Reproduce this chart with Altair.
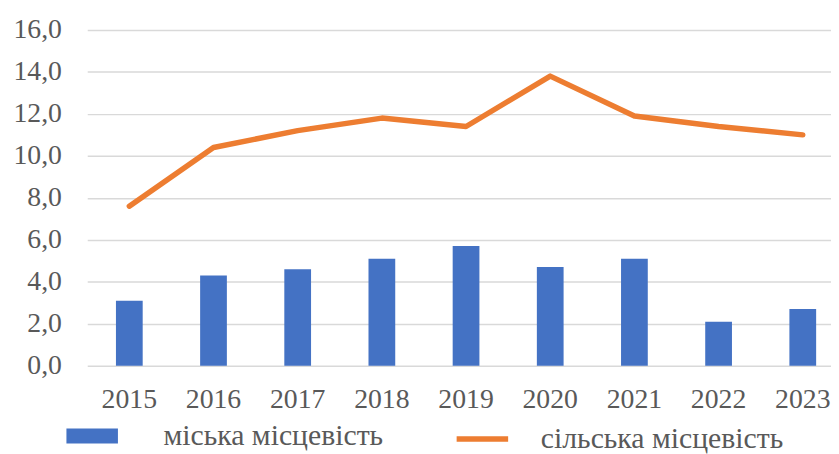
import altair as alt
import pandas as pd

years = ["2015", "2016", "2017", "2018", "2019", "2020", "2021", "2022", "2023"]
urban = [3.1, 4.3, 4.6, 5.1, 5.7, 4.7, 5.1, 2.1, 2.7]
rural = [7.6, 10.4, 11.2, 11.8, 11.4, 13.8, 11.9, 11.4, 11.0]
urban_name = "міська місцевість"
rural_name = "сільська місцевість"
y_ticks = [0, 2, 4, 6, 8, 10, 12, 14, 16]

df = pd.DataFrame({
    "year": years,
    "urban": urban,
    "rural": rural,
    "urban_s": [urban_name] * len(years),
    "rural_s": [rural_name] * len(years),
})

FONT = "'Liberation Serif', 'Times New Roman', serif"
GREY = "#595959"
FS = 28
LFS = 30

x = alt.X("year:N", title=None, sort=years,
          scale=alt.Scale(range=[0, 765], paddingInner=0, paddingOuter=0),
          axis=alt.Axis(labelAngle=0, domain=False, ticks=False, grid=False,
                        labelPadding=20, labelFont=FONT, labelFontSize=FS,
                        labelColor=GREY))

yscale = alt.Scale(domain=[0, 16], nice=False)
yaxis = alt.Axis(values=y_ticks, format=".1f", labelExpr="replace(datum.label, '.', ',')",
                 domain=False, ticks=False, grid=True, gridColor="#d9d9d9",
                 gridWidth=1.5, labelPadding=26, labelFont=FONT, labelFontSize=FS,
                 labelColor=GREY)

bars = alt.Chart(df).mark_bar(size=27).encode(
    x=x,
    y=alt.Y("urban:Q", title=None, scale=yscale, axis=yaxis),
    fill=alt.Fill("urban_s:N", title=None,
                  scale=alt.Scale(domain=[urban_name], range=["#4472C4"]),
                  legend=alt.Legend(orient="none", legendX=-21, legendY=384,
                                    symbolType="M-1,-0.29H1V0.29H-1Z",
                                    symbolSize=2704, symbolStrokeWidth=0,
                                    symbolOpacity=1, labelOffset=46,
                                    labelFont=FONT, labelFontSize=LFS,
                                    labelColor=GREY, labelLimit=0, padding=0)),
)

line = alt.Chart(df).mark_line(strokeWidth=5.5, strokeCap="round",
                               strokeJoin="round").encode(
    x=x,
    y=alt.Y("rural:Q", scale=yscale),
    stroke=alt.Stroke("rural_s:N", title=None,
                      scale=alt.Scale(domain=[rural_name], range=["#ED7D31"]),
                      legend=alt.Legend(orient="none", legendX=370, legendY=384,
                                        symbolType="stroke", symbolSize=2704,
                                        symbolStrokeWidth=5.5, labelOffset=30,
                                        labelFont=FONT, labelFontSize=LFS,
                                        labelColor=GREY, labelLimit=0, padding=0)),
)

chart = alt.layer(bars, line).properties(
    width=750,
    height=339,
    autosize=alt.AutoSizeParams(type="none"),
    padding={"left": 80, "top": 20, "right": 1, "bottom": 87},
).configure(font=FONT).configure_view(stroke=None)

chart.save("out.html", embed_options={"renderer": "svg", "actions": False})
